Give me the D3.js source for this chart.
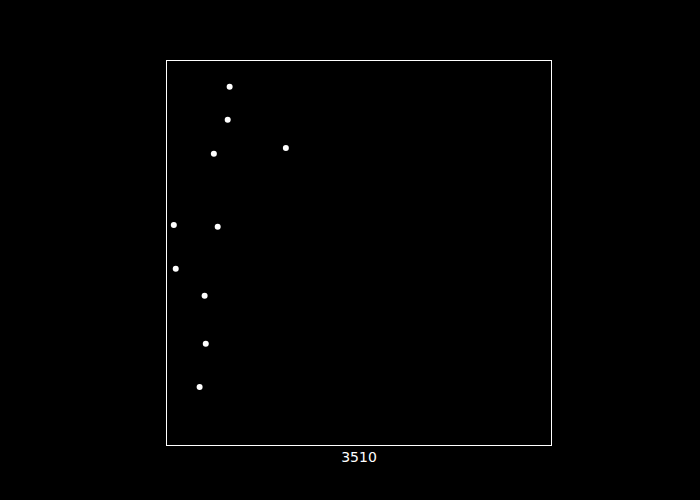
<!DOCTYPE html>
<html>
<head>
<meta charset="utf-8">
<script src="https://cdn.jsdelivr.net/npm/d3@7"></script>
<style>
html,body{margin:0;padding:0;background:#000;}
svg{display:block;}
</style>
</head>
<body>
<script>
const xValues = [16.4, 15.9, 12.3, 31.0, 1.9, 13.3, 2.4, 9.9, 10.2, 8.6];
const yValues = [93.2, 84.6, 75.8, 77.3, 57.3, 56.8, 45.9, 38.9, 26.4, 15.2];
const xLabel = "3510";

(function () {
  const W = 700, H = 500;
  const pLeft = 166.5, pRight = 551.5, pTop = 60.5, pBottom = 445.5;

  const svg = d3.select("body").append("svg").attr("width", W).attr("height", H)
    .style("background", "#000");

  const x = d3.scaleLinear().domain([0, 100]).range([pLeft, pRight]);
  const y = d3.scaleLinear().domain([0, 100]).range([pBottom, pTop]);

  svg.append("rect")
    .attr("x", pLeft).attr("y", pTop)
    .attr("width", pRight - pLeft).attr("height", pBottom - pTop)
    .attr("fill", "none").attr("stroke", "#fff").attr("stroke-width", 1);

  svg.selectAll("circle.pt")
    .data(xValues.map((v, i) => ({x: v, y: yValues[i]})))
    .enter().append("circle")
    .attr("class", "pt")
    .attr("cx", d => x(d.x)).attr("cy", d => y(d.y))
    .attr("r", 3).attr("fill", "#fff");

  svg.append("text")
    .attr("x", (pLeft + pRight) / 2).attr("y", 462)
    .attr("text-anchor", "middle")
    .attr("fill", "#fff")
    .style("font-family", "DejaVu Sans, sans-serif")
    .style("font-size", "14px")
    .text(xLabel);
})();
</script>
</body>
</html>
